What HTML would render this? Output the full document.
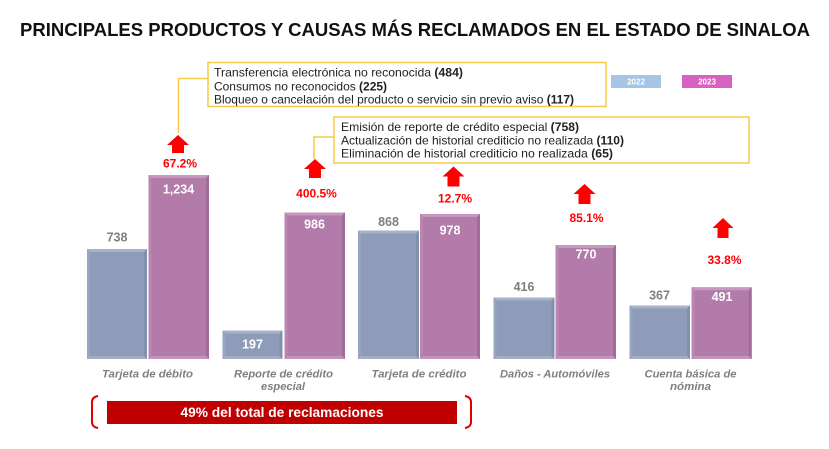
<!DOCTYPE html>
<html>
<head>
<meta charset="utf-8">
<style>
html,body{margin:0;padding:0;background:#fff;}
svg{display:block;}
text{font-family:"Liberation Sans","DejaVu Sans",sans-serif;}
</style>
</head>
<body>
<svg width="829" height="449" viewBox="0 0 829 449" xmlns="http://www.w3.org/2000/svg">
<rect width="829" height="449" fill="#fff"/>
<!-- Title -->
<text x="415" y="36" text-anchor="middle" font-size="18" font-weight="bold" fill="#111" textLength="790" lengthAdjust="spacingAndGlyphs">PRINCIPALES PRODUCTOS Y CAUSAS MÁS RECLAMADOS EN EL ESTADO DE SINALOA</text>

<!-- Annotation box 1 -->
<rect x="208" y="62.5" width="398" height="44" fill="#fff" stroke="#f7c948" stroke-width="1.5"/>
<polyline points="208,78.5 178.5,78.5 178.5,133" fill="none" stroke="#f7c948" stroke-width="1.5"/>
<text x="214" y="76.5" font-size="12" fill="#222" textLength="249" lengthAdjust="spacingAndGlyphs">Transferencia electrónica no reconocida <tspan font-weight="bold">(484)</tspan></text>
<text x="214" y="90.5" font-size="12" fill="#222" textLength="173" lengthAdjust="spacingAndGlyphs">Consumos no reconocidos <tspan font-weight="bold">(225)</tspan></text>
<text x="214" y="103.5" font-size="12" fill="#222" textLength="360" lengthAdjust="spacingAndGlyphs">Bloqueo o cancelación del producto o servicio sin previo aviso <tspan font-weight="bold">(117)</tspan></text>

<!-- Annotation box 2 -->
<rect x="334" y="117" width="415" height="46" fill="#fff" stroke="#f7c948" stroke-width="1.5"/>
<polyline points="334,137 314,137 314,159" fill="none" stroke="#f7c948" stroke-width="1.5"/>
<text x="341" y="131" font-size="12" fill="#222" textLength="238" lengthAdjust="spacingAndGlyphs">Emisión de reporte de crédito especial <tspan font-weight="bold">(758)</tspan></text>
<text x="341" y="144.5" font-size="12" fill="#222" textLength="283" lengthAdjust="spacingAndGlyphs">Actualización de historial crediticio no realizada <tspan font-weight="bold">(110)</tspan></text>
<text x="341" y="157.5" font-size="12" fill="#222" textLength="272" lengthAdjust="spacingAndGlyphs">Eliminación de historial crediticio no realizada <tspan font-weight="bold">(65)</tspan></text>

<!-- Legend -->
<rect x="611" y="75" width="50" height="13" fill="#a6c4e4"/>
<text x="636" y="84.5" text-anchor="middle" font-size="8" font-weight="bold" fill="#fff">2022</text>
<rect x="682" y="75" width="50" height="13" fill="#d862c2"/>
<text x="707" y="84.5" text-anchor="middle" font-size="8" font-weight="bold" fill="#fff">2023</text>

<!-- Bars -->
<g id="bars">
<g>
<rect x="87" y="249" width="60" height="110" fill="#8e9cba"/>
<polygon points="87,249 147,249 144,252 90,252" fill="#a7b2ca"/>
<polygon points="147,249 147,359 144,356 144,252" fill="#8190ad"/>
<polygon points="87,249 90,252 90,356 87,359" fill="#97a4c0"/>
<polygon points="87,359 147,359 144,356 90,356" fill="#a3aec6"/>
</g>
<g>
<rect x="148.5" y="175" width="60.5" height="184" fill="#b27ba9"/>
<polygon points="148.5,175 209,175 206,178 151.5,178" fill="#c598bd"/>
<polygon points="209,175 209,359 206,356 206,178" fill="#a06c98"/>
<polygon points="148.5,175 151.5,178 151.5,356 148.5,359" fill="#ba86b1"/>
<polygon points="148.5,359 209,359 206,356 151.5,356" fill="#c296ba"/>
</g>
<g>
<rect x="222.5" y="330.5" width="60" height="28.5" fill="#8e9cba"/>
<polygon points="222.5,330.5 282.5,330.5 279.5,333.5 225.5,333.5" fill="#a7b2ca"/>
<polygon points="282.5,330.5 282.5,359 279.5,356 279.5,333.5" fill="#8190ad"/>
<polygon points="222.5,330.5 225.5,333.5 225.5,356 222.5,359" fill="#97a4c0"/>
<polygon points="222.5,359 282.5,359 279.5,356 225.5,356" fill="#a3aec6"/>
</g>
<g>
<rect x="284.5" y="212.5" width="60.5" height="146.5" fill="#b27ba9"/>
<polygon points="284.5,212.5 345,212.5 342,215.5 287.5,215.5" fill="#c598bd"/>
<polygon points="345,212.5 345,359 342,356 342,215.5" fill="#a06c98"/>
<polygon points="284.5,212.5 287.5,215.5 287.5,356 284.5,359" fill="#ba86b1"/>
<polygon points="284.5,359 345,359 342,356 287.5,356" fill="#c296ba"/>
</g>
<g>
<rect x="358" y="230.5" width="61" height="128.5" fill="#8e9cba"/>
<polygon points="358,230.5 419,230.5 416,233.5 361,233.5" fill="#a7b2ca"/>
<polygon points="419,230.5 419,359 416,356 416,233.5" fill="#8190ad"/>
<polygon points="358,230.5 361,233.5 361,356 358,359" fill="#97a4c0"/>
<polygon points="358,359 419,359 416,356 361,356" fill="#a3aec6"/>
</g>
<g>
<rect x="420" y="214" width="60" height="145" fill="#b27ba9"/>
<polygon points="420,214 480,214 477,217 423,217" fill="#c598bd"/>
<polygon points="480,214 480,359 477,356 477,217" fill="#a06c98"/>
<polygon points="420,214 423,217 423,356 420,359" fill="#ba86b1"/>
<polygon points="420,359 480,359 477,356 423,356" fill="#c296ba"/>
</g>
<g>
<rect x="493.5" y="297.5" width="61" height="61.5" fill="#8e9cba"/>
<polygon points="493.5,297.5 554.5,297.5 551.5,300.5 496.5,300.5" fill="#a7b2ca"/>
<polygon points="554.5,297.5 554.5,359 551.5,356 551.5,300.5" fill="#8190ad"/>
<polygon points="493.5,297.5 496.5,300.5 496.5,356 493.5,359" fill="#97a4c0"/>
<polygon points="493.5,359 554.5,359 551.5,356 496.5,356" fill="#a3aec6"/>
</g>
<g>
<rect x="555.7" y="245" width="60.3" height="114" fill="#b27ba9"/>
<polygon points="555.7,245 616,245 613,248 558.7,248" fill="#c598bd"/>
<polygon points="616,245 616,359 613,356 613,248" fill="#a06c98"/>
<polygon points="555.7,245 558.7,248 558.7,356 555.7,359" fill="#ba86b1"/>
<polygon points="555.7,359 616,359 613,356 558.7,356" fill="#c296ba"/>
</g>
<g>
<rect x="629.5" y="305.5" width="60.5" height="53.5" fill="#8e9cba"/>
<polygon points="629.5,305.5 690,305.5 687,308.5 632.5,308.5" fill="#a7b2ca"/>
<polygon points="690,305.5 690,359 687,356 687,308.5" fill="#8190ad"/>
<polygon points="629.5,305.5 632.5,308.5 632.5,356 629.5,359" fill="#97a4c0"/>
<polygon points="629.5,359 690,359 687,356 632.5,356" fill="#a3aec6"/>
</g>
<g>
<rect x="691.7" y="287.3" width="60" height="71.7" fill="#b27ba9"/>
<polygon points="691.7,287.3 751.7,287.3 748.7,290.3 694.7,290.3" fill="#c598bd"/>
<polygon points="751.7,287.3 751.7,359 748.7,356 748.7,290.3" fill="#a06c98"/>
<polygon points="691.7,287.3 694.7,290.3 694.7,356 691.7,359" fill="#ba86b1"/>
<polygon points="691.7,359 751.7,359 748.7,356 694.7,356" fill="#c296ba"/>
</g>
</g>

<!-- Value labels -->
<g font-size="12.5" font-weight="bold" text-anchor="middle">
<text x="117" y="241.5" fill="#7f7f7f">738</text>
<text x="178.5" y="193.5" fill="#fff">1,234</text>
<text x="252.5" y="348.5" fill="#fff">197</text>
<text x="314.5" y="228.5" fill="#fff">986</text>
<text x="388.5" y="226" fill="#7f7f7f">868</text>
<text x="450" y="234.5" fill="#fff">978</text>
<text x="524" y="291" fill="#7f7f7f">416</text>
<text x="586" y="258.5" fill="#fff">770</text>
<text x="659.5" y="299.5" fill="#7f7f7f">367</text>
<text x="722" y="301" fill="#fff">491</text>
</g>

<!-- Arrows -->
<g fill="#ff0000">
<polygon points="178,135 189,145 184,145 184,153 172,153 172,145 167,145"/>
<polygon points="315,159 326,169 321,169 321,178 309,178 309,169 304,169"/>
<polygon points="453.5,166.5 464.5,176.5 459.5,176.5 459.5,186.5 447.5,186.5 447.5,176.5 442.5,176.5"/>
<polygon points="584.5,184 595.5,194 590.5,194 590.5,204 578.5,204 578.5,194 573.5,194"/>
<polygon points="723,218 733.5,228 728.5,228 728.5,238 717.5,238 717.5,228 712.5,228"/>
</g>

<!-- Percentages -->
<g font-size="12" font-weight="bold" fill="#ff0000" text-anchor="middle">
<text x="180" y="167.5">67.2%</text>
<text x="316.5" y="197.5">400.5%</text>
<text x="455" y="202.5">12.7%</text>
<text x="586.5" y="222">85.1%</text>
<text x="724.5" y="264">33.8%</text>
</g>

<!-- Category labels -->
<g font-size="11" font-weight="bold" font-style="italic" fill="#7f7f7f" text-anchor="middle">
<text x="147.5" y="377.5" textLength="91" lengthAdjust="spacingAndGlyphs">Tarjeta de débito</text>
<text x="283.5" y="377.5" textLength="99" lengthAdjust="spacingAndGlyphs">Reporte de crédito</text>
<text x="283" y="390" textLength="44" lengthAdjust="spacingAndGlyphs">especial</text>
<text x="419" y="377.5" textLength="95" lengthAdjust="spacingAndGlyphs">Tarjeta de crédito</text>
<text x="555" y="377.5" textLength="110" lengthAdjust="spacingAndGlyphs">Daños - Automóviles</text>
<text x="690.5" y="377.5" textLength="92" lengthAdjust="spacingAndGlyphs">Cuenta básica de</text>
<text x="690.5" y="390" textLength="41" lengthAdjust="spacingAndGlyphs">nómina</text>
</g>

<!-- Banner -->
<rect x="107" y="401" width="350" height="23" fill="#c00000"/>
<text x="282" y="417" text-anchor="middle" font-size="14" font-weight="bold" fill="#fff" textLength="203" lengthAdjust="spacingAndGlyphs">49% del total de reclamaciones</text>
<path d="M98,396 Q92,397 92,402 L92,422 Q92,427 98,428" fill="none" stroke="#e00000" stroke-width="2"/>
<path d="M465,396 Q471,397 471,402 L471,422 Q471,427 465,428" fill="none" stroke="#e00000" stroke-width="2"/>
</svg>
</body>
</html>
